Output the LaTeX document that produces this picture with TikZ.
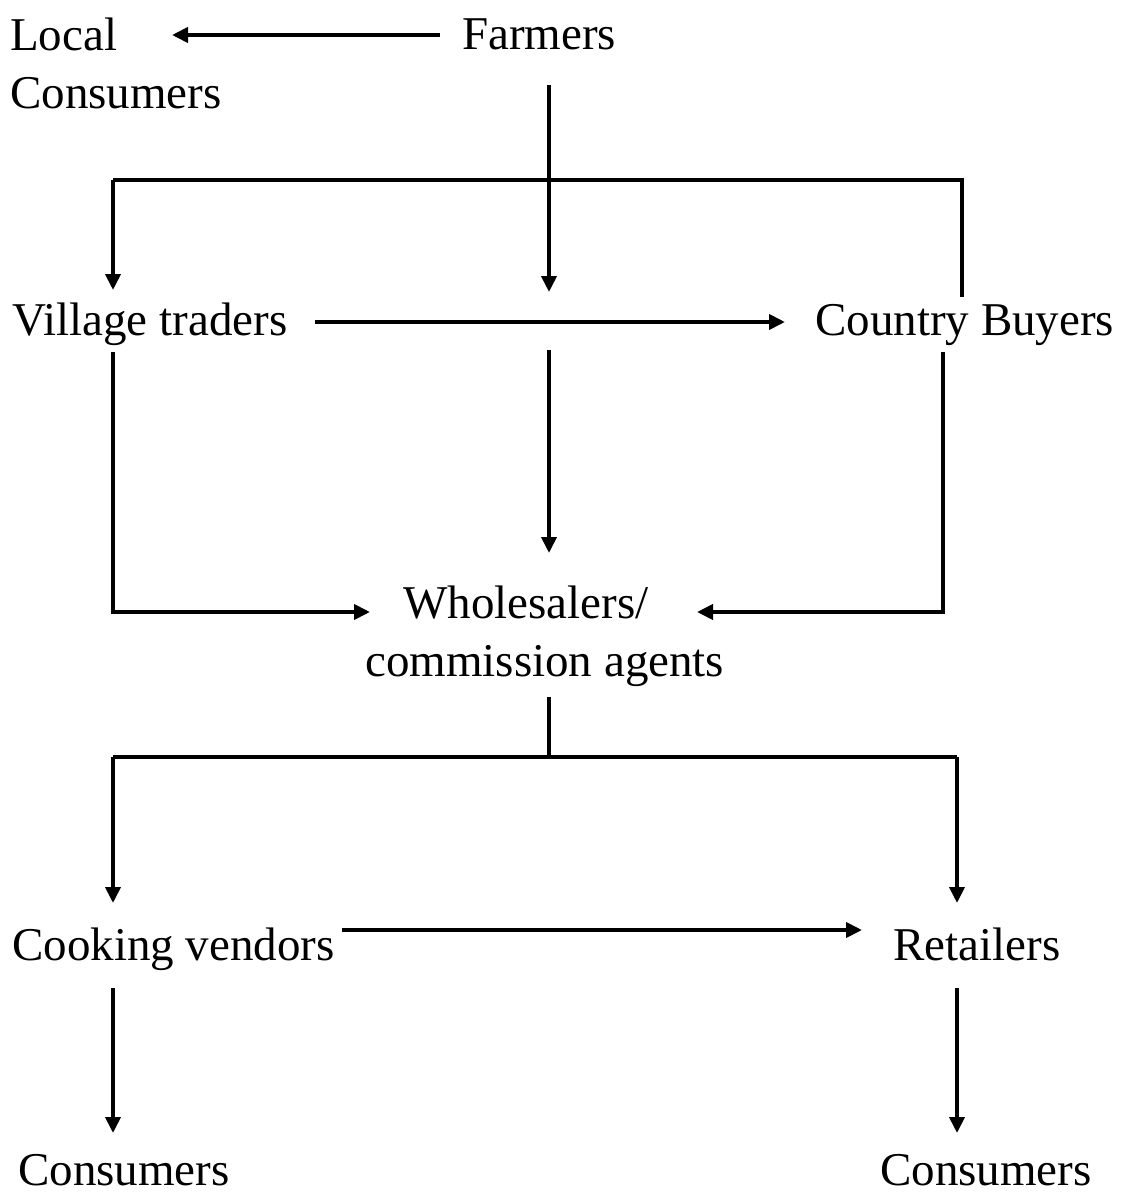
\documentclass[tikz,border=0pt]{standalone}
\usepackage{fontspec}
\setmainfont{Liberation Serif}
\usetikzlibrary{arrows.meta}
\begin{document}
\begin{tikzpicture}[x=1pt,y=-1pt,
  lbl/.style={inner sep=0pt,anchor=base west,font=\fontsize{47}{58}\selectfont},
  ln/.style={line width=3.8pt,line join=miter,line cap=butt},
  arr/.style={ln,-{Triangle[length=16pt,width=15pt]}}]
\useasboundingbox (0,0) rectangle (1123,1193);
% nodes
\node[lbl,anchor=north west,align=left] (local) at (10,18) {Local\\Consumers};
\node[lbl] (farmers) at (462,50) {Farmers};
\node[lbl] (village) at (12,335) {Village traders};
\node[lbl] (country) at (815,335) {Country Buyers};
\node[lbl,anchor=north west,align=left] (whole) at (365,586) {\hspace*{38pt}Wholesalers/\\commission agents};
\node[lbl] (cook) at (12,960) {Cooking vendors};
\node[lbl] (retail) at (893,960) {Retailers};
\node[lbl] (cons1) at (18,1185) {Consumers};
\node[lbl] (cons2) at (880,1185) {Consumers};
% junctions
\coordinate (fL) at (440,35);  \coordinate (lE) at (172,35);
\coordinate (fS) at (549,85);  \coordinate (fT) at (549,292);
\coordinate (bL) at (113,180); \coordinate (bR) at (962,180);
\coordinate (vN) at (113,290); \coordinate (cN) at (962,297);
\coordinate (vE) at (315,322); \coordinate (cW) at (785,322);
\coordinate (mS) at (549,350); \coordinate (wN) at (549,553);
\coordinate (vS) at (113,352); \coordinate (vC) at (113,612); \coordinate (wW) at (370,612);
\coordinate (cS) at (943,352); \coordinate (cC) at (943,612); \coordinate (wE) at (697,612);
\coordinate (wS) at (549,697); \coordinate (wJ) at (549,757);
\coordinate (dL) at (113,757); \coordinate (dR) at (957,757);
\coordinate (kN) at (113,903); \coordinate (rN) at (957,903);
\coordinate (kE) at (342,930); \coordinate (rW) at (862,930);
\coordinate (kS) at (113,988); \coordinate (k2) at (113,1133);
\coordinate (rS) at (957,988); \coordinate (r2) at (957,1133);
% connectors
\draw[arr] (fL) -- (lE);
\draw[arr] (fS) -- (fT);
\draw[ln] (bL) -- (bR) -- (cN);
\draw[arr] (bL) -- (vN);
\draw[arr] (vE) -- (cW);
\draw[arr] (mS) -- (wN);
\draw[arr] (vS) -- (vC) -- (wW);
\draw[arr] (cS) -- (cC) -- (wE);
\draw[ln] (wS) -- (wJ);
\draw[ln] (dL) -- (dR);
\draw[arr] (dL) -- (kN);
\draw[arr] (dR) -- (rN);
\draw[arr] (kE) -- (rW);
\draw[arr] (kS) -- (k2);
\draw[arr] (rS) -- (r2);
\end{tikzpicture}
\end{document}
